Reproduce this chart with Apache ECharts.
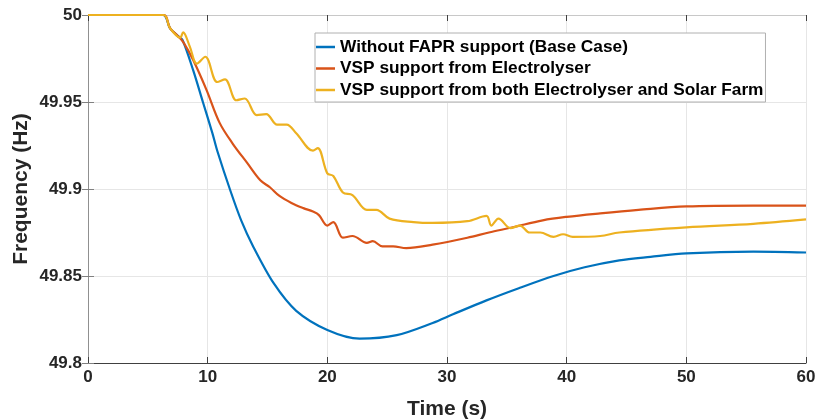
<!DOCTYPE html>
<html>
<head>
<meta charset="utf-8">
<script src="https://cdn.jsdelivr.net/npm/echarts@6/dist/echarts.min.js"></script>
<style>
  html, body { margin: 0; padding: 0; background: #fff; }
  #chart { width: 824px; height: 419px; }
</style>
</head>
<body>
<div id="chart"></div>
<script>
// series names
const seriesNames = [
  'Without FAPR support (Base Case)',
  'VSP support from Electrolyser',
  'VSP support from both Electrolyser and Solar Farm'
]

// base case (blue)
const baseTime = [0, 3, 6.3, 6.85, 7.5, 7.9, 8.8, 9.6, 10.4, 10.8, 11.9, 12.8, 13.8, 15.5, 17.4, 20.0, 22.7, 25.8, 28.8, 30.5, 33.3, 36, 38.9, 41.5, 44.4, 47, 50, 55.6, 60]
const baseFreq = [50.002, 50.001, 50.000, 49.9925, 49.988, 49.9856, 49.968, 49.950, 49.932, 49.922, 49.899, 49.882, 49.867, 49.846, 49.830, 49.819, 49.814, 49.816, 49.823, 49.828, 49.836, 49.843, 49.850, 49.855, 49.859, 49.861, 49.863, 49.864, 49.8635]

// electrolyser (red)
const elecTime = [0, 6.3, 6.85, 7.5, 8.0, 8.8, 9.9, 11.0, 12.1, 13.3, 14.4, 15.2, 16.0, 17.0, 18.0, 18.8, 19.3, 20.0, 20.5, 21.3, 22.1, 23.3, 23.8, 24.6, 25.5, 26.6, 28.8, 31.7, 33.5, 35.5, 38, 40, 42.8, 46, 50, 55.6, 60]
const elecFreq = [50.000, 50.000, 49.9925, 49.988, 49.984, 49.974, 49.957, 49.938, 49.926, 49.915, 49.905, 49.901, 49.896, 49.892, 49.889, 49.887, 49.885, 49.879, 49.881, 49.872, 49.873, 49.869, 49.870, 49.867, 49.867, 49.866, 49.868, 49.872, 49.875, 49.878, 49.882, 49.884, 49.886, 49.888, 49.890, 49.8905, 49.8905]

// electrolyser + solar farm (yellow)
const bothTime = [0, 6.3, 6.85, 7.7, 7.95, 8.5, 9.1, 9.8, 10.8, 11.45, 12.4, 13.1, 14.1, 14.9, 15.8, 16.6, 17.4, 18.8, 19.2, 20.0, 20.5, 21.3, 22.1, 23.3, 24.1, 25.2, 27.2, 28.8, 31.7, 33.3, 33.7, 34.3, 35.3, 36.1, 36.9, 37.8, 38.9, 39.7, 40.5, 42.8, 44.4, 50, 55.6, 60]
const bothFreq = [50.000, 50.000, 49.9925, 49.987, 49.990, 49.982, 49.972, 49.976, 49.9615, 49.963, 49.951, 49.952, 49.9425, 49.943, 49.937, 49.937, 49.932, 49.922, 49.9235, 49.909, 49.9075, 49.898, 49.8965, 49.888, 49.888, 49.883, 49.881, 49.8805, 49.8815, 49.8845, 49.879, 49.883, 49.8775, 49.879, 49.875, 49.875, 49.8725, 49.874, 49.8725, 49.873, 49.875, 49.878, 49.880, 49.8825]

const colors = ['#0072BD', '#D95319', '#EDB120']
const fontName = 'Liberation Sans, Arial, sans-serif'

function pairs (xs, ys) {
  return xs.map(function (x, i) { return [x, ys[i]] })
}

const labelFont = {
  fontFamily: fontName,
  fontWeight: 'bold',
  fontSize: 17,
  color: '#262626'
}
const nameFont = {
  fontFamily: fontName,
  fontWeight: 'bold',
  fontSize: 21,
  color: '#262626'
}

let chart = echarts.init(document.getElementById('chart'), null, { renderer: 'canvas' })
chart.setOption({
  backgroundColor: '#ffffff',
  animation: false,
  color: colors,
  grid: {
    left: 88,
    right: 18,
    top: 15,
    bottom: 56,
    outerBoundsMode: 'none'
  },
  legend: {
    orient: 'vertical',
    left: 315,
    top: 33,
    data: seriesNames,
    icon: 'rect',
    itemWidth: 19,
    itemHeight: 2.5,
    itemGap: 3.5,
    padding: [5, 2, 3, 1],
    borderColor: '#b0b0b0',
    borderWidth: 1,
    backgroundColor: '#ffffff',
    textStyle: {
      fontFamily: fontName,
      fontWeight: 'bold',
      fontSize: 17.3,
      lineHeight: 18,
      color: '#000000'
    }
  },
  xAxis: [
    {
      type: 'value',
      min: 0,
      max: 60,
      interval: 10,
      name: 'Time (s)',
      nameLocation: 'middle',
      nameGap: 36,
      nameTextStyle: nameFont,
      axisLabel: Object.assign({ margin: 6 }, labelFont),
      axisLine: { lineStyle: { color: '#404040', width: 1 } },
      axisTick: { inside: true, length: 6, lineStyle: { color: '#404040' } },
      splitLine: { show: true, lineStyle: { color: '#e6e6e6', width: 1 } }
    },
    {
      type: 'value',
      position: 'top',
      min: 0,
      max: 60,
      interval: 10,
      axisLabel: { show: false },
      axisLine: { show: true, lineStyle: { color: '#c8c8c8', width: 1 } },
      axisTick: { inside: true, length: 6, lineStyle: { color: '#404040' } },
      splitLine: { show: false }
    }
  ],
  yAxis: [
    {
      type: 'value',
      min: 49.8,
      max: 50,
      interval: 0.05,
      name: 'Frequency (Hz)',
      nameLocation: 'middle',
      nameGap: 56,
      nameMoveOverlap: false,
      nameTextStyle: nameFont,
      axisLabel: Object.assign({ margin: 6 }, labelFont),
      axisLine: { show: true, lineStyle: { color: '#a8a8a8', width: 1 } },
      axisTick: { show: true, inside: true, length: 6, lineStyle: { color: '#808080' } },
      splitLine: { show: true, lineStyle: { color: '#e6e6e6', width: 1 } }
    },
    {
      type: 'value',
      position: 'right',
      min: 49.8,
      max: 50,
      interval: 0.05,
      axisLabel: { show: false },
      axisLine: { show: true, lineStyle: { color: '#909090', width: 1 } },
      axisTick: { show: true, inside: true, length: 6, lineStyle: { color: '#808080' } },
      splitLine: { show: false }
    }
  ],
  series: [
    {
      name: seriesNames[0],
      type: 'line',
      smooth: 0.3,
      showSymbol: false,
      symbol: 'none',
      lineStyle: { width: 2.2, color: colors[0] },
      data: pairs(baseTime, baseFreq),
      z: 3
    },
    {
      name: seriesNames[1],
      type: 'line',
      smooth: 0.35,
      showSymbol: false,
      symbol: 'none',
      lineStyle: { width: 2.2, color: colors[1] },
      data: pairs(elecTime, elecFreq),
      z: 4
    },
    {
      name: seriesNames[2],
      type: 'line',
      smooth: 0.35,
      showSymbol: false,
      symbol: 'none',
      lineStyle: { width: 2.2, color: colors[2] },
      data: pairs(bothTime, bothFreq),
      z: 5
    }
  ]
})
</script>
</body>
</html>
